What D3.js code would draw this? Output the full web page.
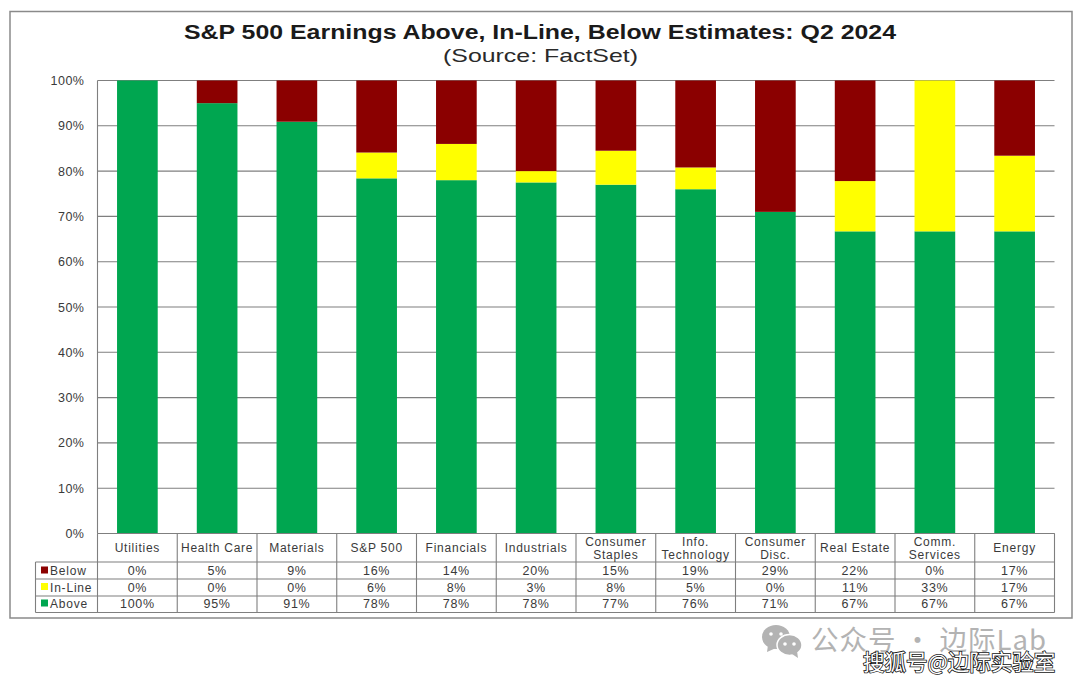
<!DOCTYPE html>
<html><head><meta charset="utf-8">
<script src="https://cdn.jsdelivr.net/npm/d3@7/dist/d3.min.js"></script>
<style>html,body{margin:0;padding:0;background:#fff}svg{display:block}text{font-family:"Liberation Sans",Arial,sans-serif}</style>
</head><body><svg id="c" width="1080" height="685"></svg>
<script>
const categories=[["Utilities"],["Health Care"],["Materials"],["S&P 500"],["Financials"],["Industrials"],["Consumer","Staples"],["Info.","Technology"],["Consumer","Disc."],["Real Estate"],["Comm.","Services"],["Energy"]];
const above=[100,95,90.9,78.4,78,77.5,77,76,71,66.7,66.7,66.7];
const inLine=[0,0,0,5.7,8,2.5,7.5,4.8,0,11.1,33.3,16.7];
const below=[0,5,9.1,15.9,14,20,15.5,19.2,29,22.2,0,16.6];
const aboveLabels=["100%","95%","91%","78%","78%","78%","77%","76%","71%","67%","67%","67%"];
const inLineLabels=["0%","0%","0%","6%","8%","3%","8%","5%","0%","11%","33%","17%"];
const belowLabels=["0%","5%","9%","16%","14%","20%","15%","19%","29%","22%","0%","17%"];
const seriesNames=["Above","In-Line","Below"];
const seriesColors=["#00a650","#ffff00","#8b0000"];
const yTicks=[0,10,20,30,40,50,60,70,80,90,100];

const svg=d3.select("#c");
const grey="#7f7f7f", ink="#3a3a3a";
svg.append("rect").attr("x",10).attr("y",11.5).attr("width",1062).attr("height",606.5)
  .attr("fill","#fff").attr("stroke","#8a8a8a").attr("stroke-width",1.5);

svg.append("text").attr("x",540).attr("y",39).attr("text-anchor","middle")
  .attr("font-size",20).attr("font-weight","bold").attr("fill","#1a1a1a")
  .attr("textLength",712).attr("lengthAdjust","spacingAndGlyphs")
  .text("S&P 500 Earnings Above, In-Line, Below Estimates: Q2 2024");
svg.append("text").attr("x",540.5).attr("y",62).attr("text-anchor","middle")
  .attr("font-size",18.5).attr("fill","#2a2a2a")
  .attr("textLength",195).attr("lengthAdjust","spacingAndGlyphs")
  .text("(Source: FactSet)");

const L=97.5,R=1054.5,T=80.5,B=533.5;
const x=d3.scaleBand().domain(d3.range(categories.length)).range([L,R]).paddingInner(0.49).paddingOuter(0.245);
const y=d3.scaleLinear().domain([0,100]).range([B,T]);

svg.append("g").selectAll("line").data(yTicks).join("line")
  .attr("x1",L).attr("x2",R).attr("y1",d=>y(d)).attr("y2",d=>y(d))
  .attr("stroke",grey).attr("stroke-width",1.1);
svg.append("line").attr("x1",L).attr("x2",L).attr("y1",T).attr("y2",B).attr("stroke",grey).attr("stroke-width",1.1);

const axis=d3.axisLeft(y).tickValues(yTicks).tickFormat(d=>d+"%").tickSize(0).tickPadding(13);
const ga=svg.append("g").attr("transform",`translate(${L},0)`).call(axis);
ga.select(".domain").remove();
ga.selectAll("text").attr("font-size",12.5).attr("fill",ink).attr("font-family","Liberation Sans, Arial, sans-serif").attr("letter-spacing",0.5);

const rows=categories.map((c,i)=>({i,v:[above[i],inLine[i],below[i]]}));
const stack=d3.stack().keys([0,1,2]).value((d,k)=>d.v[k]);
svg.append("g").selectAll("g").data(stack(rows)).join("g").attr("fill",(d,i)=>seriesColors[i])
  .selectAll("rect").data(d=>d).join("rect")
  .attr("x",d=>x(d.data.i)).attr("width",x.bandwidth())
  .attr("y",d=>y(d[1])).attr("height",d=>y(d[0])-y(d[1]));

// data table
const step=x.step();
const colX=i=>L+step*i;
const rowY=[533.5,562,579,596,612.5];
const tbl=svg.append("g").attr("stroke",grey).attr("stroke-width",1.1);
d3.range(categories.length+1).forEach(i=>tbl.append("line").attr("x1",colX(i)).attr("x2",colX(i)).attr("y1",rowY[0]).attr("y2",rowY[4]));
tbl.append("line").attr("x1",35.5).attr("x2",35.5).attr("y1",rowY[1]).attr("y2",rowY[4]);
rowY.forEach((ry,j)=>tbl.append("line").attr("x1",j===0?L:35.5).attr("x2",R).attr("y1",ry).attr("y2",ry));

const cx=i=>colX(i)+step/2;
const cat=svg.append("g").attr("font-size",12).attr("fill",ink).attr("text-anchor","middle");
categories.forEach((c,i)=>{
  const t=cat.append("text").attr("x",cx(i)).attr("letter-spacing",0.75);
  if(c.length===1) t.attr("y",552).text(c[0]);
  else{
    t.append("tspan").attr("x",cx(i)).attr("y",546).text(c[0]);
    t.append("tspan").attr("x",cx(i)).attr("y",559).text(c[1]);
  }
});
const tableRows=[[belowLabels,"Below",seriesColors[2]],[inLineLabels,"In-Line",seriesColors[1]],[aboveLabels,"Above",seriesColors[0]]];
const rowBase=[575,591.5,608];
tableRows.forEach((r,j)=>{
  const base=rowBase[j];
  const g=svg.append("g");
  g.append("rect").attr("x",41).attr("y",base-8.5).attr("width",7).attr("height",7).attr("fill",r[2]);
  g.append("text").attr("x",50).attr("y",base).attr("font-size",12).attr("fill",ink).attr("letter-spacing",0.8).text(r[1]);
  g.selectAll(null).data(r[0]).join("text").attr("x",(d,i)=>cx(i)).attr("y",base).attr("text-anchor","middle")
   .attr("font-size",12.5).attr("fill",ink).attr("letter-spacing",0.7).text(d=>d);
});

// watermark
const wm=svg.append("g").attr("fill","#b3b3b3");
wm.append("ellipse").attr("cx",776).attr("cy",637).attr("rx",14).attr("ry",12);
wm.append("path").attr("d","M768 645 L767 652 L776 648 Z");
wm.append("ellipse").attr("cx",789.5).attr("cy",645).attr("rx",12.5).attr("ry",10.5).attr("stroke","#fff").attr("stroke-width",1.5);
wm.append("path").attr("d","M792 654 L798 658 L797 651 Z");
[[771,634],[781,634],[785,644],[794,644]].forEach(p=>wm.append("circle").attr("cx",p[0]).attr("cy",p[1]).attr("r",1.8).attr("fill","#fff"));
svg.append("text").attr("x",811).attr("y",650).attr("font-size",27.5).attr("fill","#b3b3b3")
  .attr("textLength",235).attr("lengthAdjust","spacing")
  .style("font-family",'"Noto Sans CJK SC",sans-serif').text("公众号 · 边际Lab");
svg.append("text").attr("x",863).attr("y",670).attr("font-size",21.5).attr("fill","#fff")
  .attr("stroke","#111").attr("stroke-width",1.6).attr("paint-order","stroke")
  .style("font-family",'"Noto Sans CJK SC",sans-serif').text("搜狐号@边际实验室");
</script></body></html>
